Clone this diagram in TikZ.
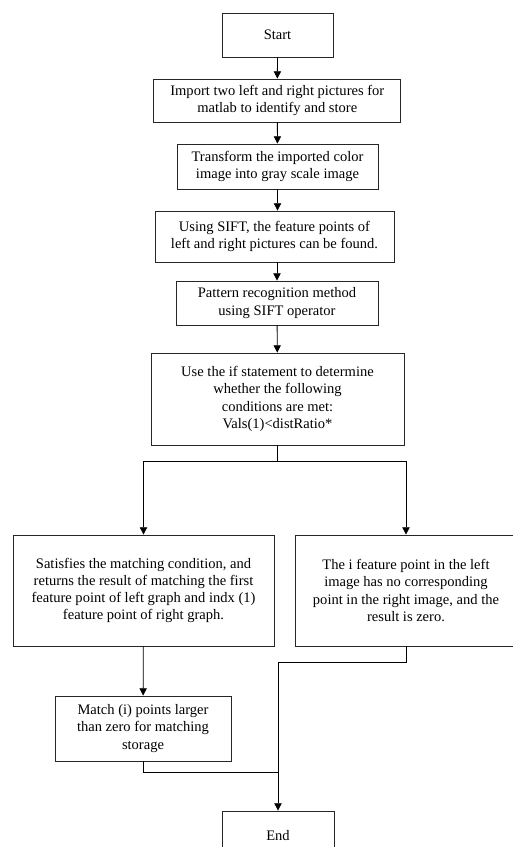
\documentclass[tikz,border=0pt]{standalone}
\usepackage{fontspec}
\setmainfont{Liberation Serif}
\usetikzlibrary{arrows.meta}

\begin{document}
\begin{tikzpicture}[
            > = {Triangle[length=5.5pt, width=5.5pt]}, % arrow head style
            x = 0.75pt, y = -0.75pt, % one unit is one pixel, y runs down
            line width = 0.6pt % line style
        ]

        \tikzstyle{box}=[
        draw = black!85,
        rectangle,
        align = center,
        inner sep = 0pt,
        font = \fontsize{10.9}{12.9}\selectfont
        ]

        \clip (0,0) rectangle (513,847);

        \node[box, minimum width=83.25pt, minimum height=33pt] (start) at (277.5,35) {Start};
        \node[box, minimum width=185.25pt, minimum height=32.25pt] (imp) at (277.3,100.5)
            {Import two left and right pictures for\\matlab to identify and store};
        \node[box, minimum width=150.75pt, minimum height=33.75pt] (trans) at (277.5,166.5)
            {Transform the imported color\\image into gray scale image};
        \node[box, minimum width=179.25pt, minimum height=38.25pt] (sift) at (274.5,236.5)
            {Using SIFT, the feature points of\\left and right pictures can be found.};
        \node[box, minimum width=151.5pt, minimum height=33pt] (patt) at (277,303)
            {Pattern recognition method\\using SIFT operator};
        \node[box, minimum width=189.75pt, minimum height=69pt] (cond) at (277.5,399)
            {Use the if statement to determine\\whether the following\\conditions are met:\\Vals(1)<distRatio*};
        \node[box, minimum width=195.75pt, minimum height=83.25pt] (yes) at (143.5,590.5)
            {Satisfies the matching condition, and\\returns the result of matching the first\\feature point of left graph and indx (1)\\feature point of right graph.};
        \node[box, minimum width=166.5pt, minimum height=83.25pt] (no) at (406,590.5)
            {The i feature point in the left\\image has no corresponding\\point in the right image, and the\\result is zero.};
        \node[box, minimum width=132pt, minimum height=48.75pt] (store) at (143,728.5)
            {Match (i) points larger\\than zero for matching\\storage};
        \node[box, minimum width=84pt, minimum height=36.75pt] (end) at (278,835.5) {End};

        \coordinate (split) at (277.5,461);
        \coordinate (merge) at (278,772);

        \draw[->] (start) -- (imp);
        \draw[->] (imp) -- (trans);
        \draw[->] (trans.south) -- (trans.south |- sift.north);
        \draw[->] (sift.south -| patt.north) -- (patt.north);
        \draw[->] (patt) -- (cond);
        \draw (cond.south) -- (split);
        \draw[->] (split) -| (yes.north);
        \draw[->] (split) -| (no.north);
        \draw[->] (yes) -- (store);
        \draw (store.south) |- (merge);
        \draw[->] (no.south) -- ++(0,16) -| (end.north);
    \end{tikzpicture}
\end{document}
